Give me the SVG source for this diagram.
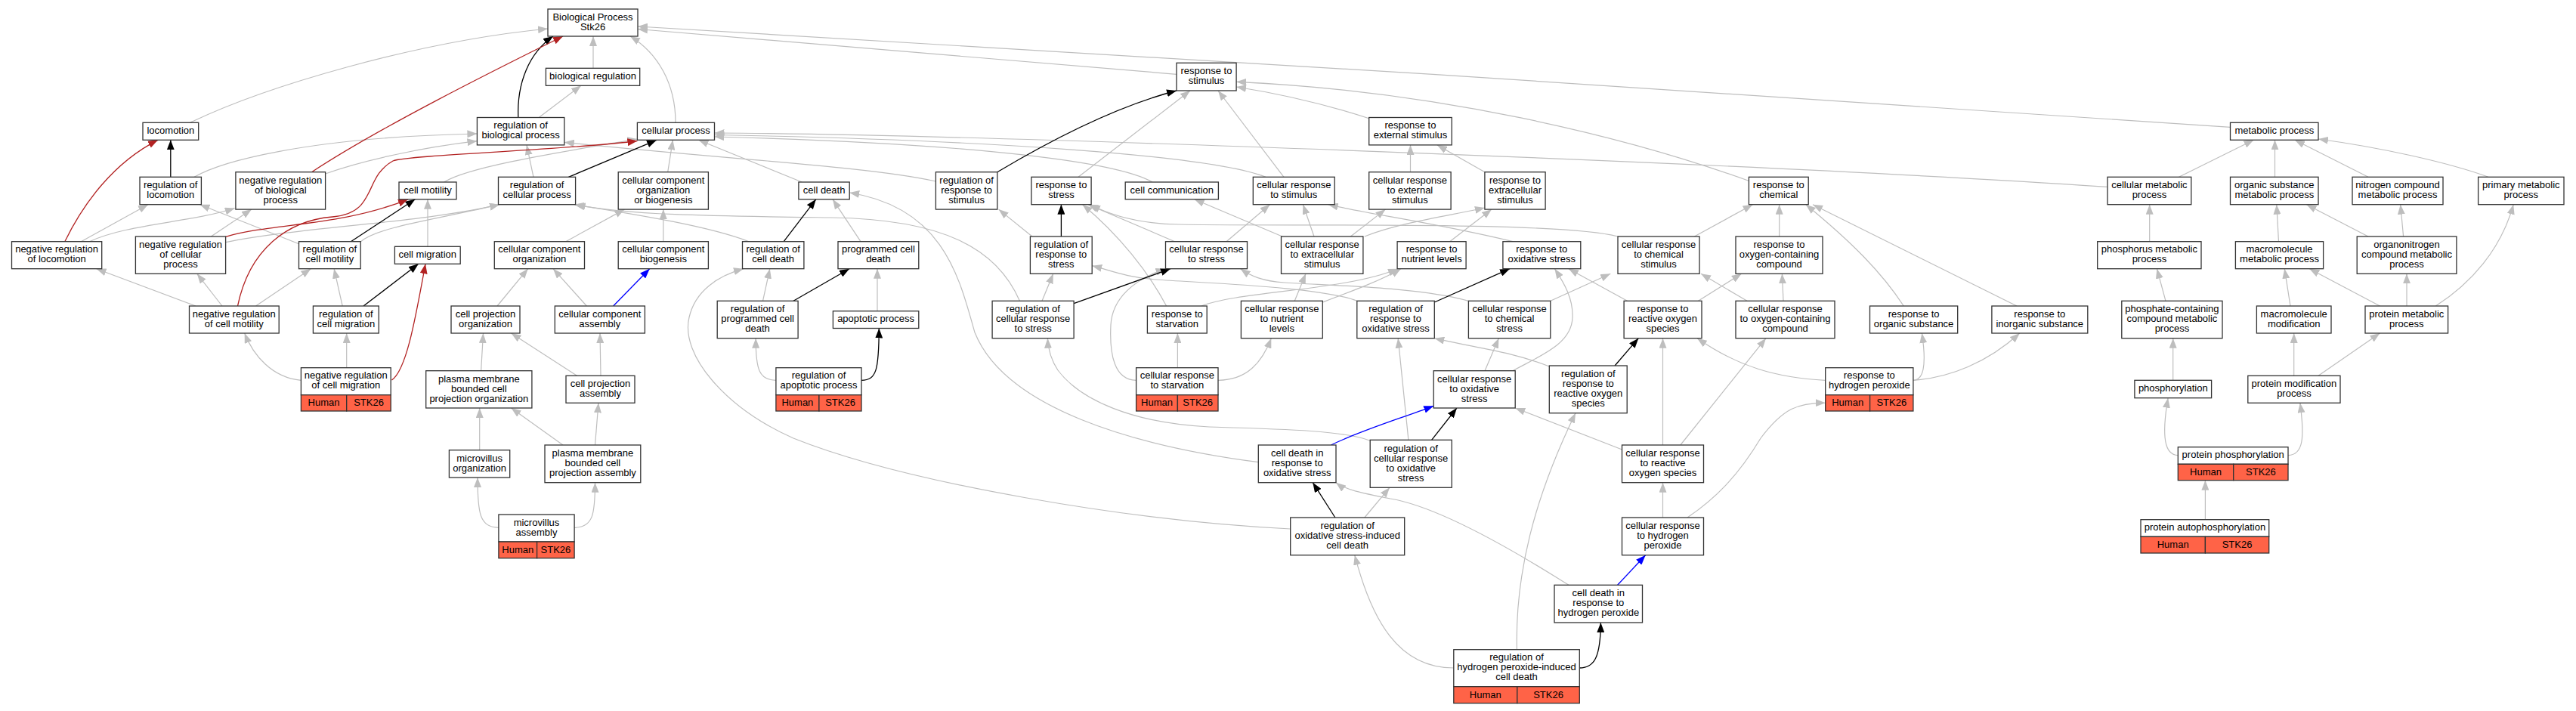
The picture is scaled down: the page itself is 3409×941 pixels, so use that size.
<svg xmlns="http://www.w3.org/2000/svg" width="3409" height="941" viewBox="0 0 3409 941">
<defs>
<style>
.e{fill:none;stroke:#bebebe;stroke-width:1.2;marker-end:url(#mg)}
.k{fill:none;stroke:#000;stroke-width:1.3;marker-end:url(#mk)}
.r{fill:none;stroke:#b22222;stroke-width:1.3;marker-end:url(#mr)}
.b{fill:none;stroke:#0000ff;stroke-width:1.3;marker-end:url(#mb)}
.n rect{fill:#fff;stroke:#333;stroke-width:1.3}
.n rect.c{fill:#ff6347}
text{font-family:"Liberation Sans",Arial,sans-serif;font-size:13px;text-anchor:middle;fill:#000}
</style>
<marker id="mg" viewBox="0 0 13 10" refX="13" refY="5" markerWidth="13" markerHeight="10" markerUnits="userSpaceOnUse" orient="auto"><path d="M0,0 L13,5 L0,10 z" fill="#bebebe"/></marker>
<marker id="mk" viewBox="0 0 13 10" refX="13" refY="5" markerWidth="13" markerHeight="10" markerUnits="userSpaceOnUse" orient="auto"><path d="M0,0 L13,5 L0,10 z" fill="#000"/></marker>
<marker id="mr" viewBox="0 0 13 10" refX="13" refY="5" markerWidth="13" markerHeight="10" markerUnits="userSpaceOnUse" orient="auto"><path d="M0,0 L13,5 L0,10 z" fill="#b22222"/></marker>
<marker id="mb" viewBox="0 0 13 10" refX="13" refY="5" markerWidth="13" markerHeight="10" markerUnits="userSpaceOnUse" orient="auto"><path d="M0,0 L13,5 L0,10 z" fill="#0000ff"/></marker>
</defs>
<rect x="0" y="0" width="3409" height="941" fill="#fff"/>
<g id="edges">
<path class="e" d="M251.6,162.3 C350,115 550,55 725,38"/>
<path class="e" d="M785,90.3 L785,48"/>
<path class="e" d="M894,162.3 C894,110 870,70 834,48"/>
<path class="e" d="M1557,98.3 L844,38.5"/>
<path class="e" d="M2951.5,168.3 C2500,135 1300,60 844,35"/>
<path class="e" d="M257,234.3 C290,215 400,182 631.4,177"/>
<path class="e" d="M430.6,230 C480,212 560,195 631.4,186.7"/>
<path class="e" d="M706,234.3 L697,192"/>
<path class="e" d="M713.5,155.3 L769,113.3"/>
<path class="e" d="M1238.4,240 C1150,220 950,210 746.8,188.3"/>
<path class="e" d="M107.3,319.7 L196,270.7"/>
<path class="e" d="M118.4,319.7 C170,296 250,295 310.8,275.5"/>
<path class="e" d="M259,405 L127.6,355.7"/>
<path class="e" d="M294,405 L260.8,362.3"/>
<path class="e" d="M338.5,405 L411.4,355.7"/>
<path class="e" d="M453.2,405 L442.1,355.7"/>
<path class="e" d="M458.7,486.7 L458.7,441"/>
<path class="e" d="M398.4,503.3 C360,500 335,470 323.7,441"/>
<path class="e" d="M279.3,313 L333,277.1"/>
<path class="e" d="M395.5,322.7 L264.5,270.7"/>
<path class="e" d="M566,326.3 L566,263.8"/>
<path class="e" d="M298.6,320.7 C400,300 560,295 661,270.7"/>
<path class="e" d="M477.2,320 C500,300 580,290 661,270.7"/>
<path class="e" d="M587.7,241 C620,220 750,200 843.4,184"/>
<path class="e" d="M883.7,227.7 L890.4,185.3"/>
<path class="e" d="M1061.3,241 L924.4,185.3"/>
<path class="e" d="M2788.6,247.3 C2300,215 1300,178 945.5,176"/>
<path class="e" d="M1675,234.3 C1600,205 1300,185 945.5,178.5"/>
<path class="e" d="M1525,241 C1480,215 1300,190 945.5,181"/>
<path class="e" d="M1665.3,611.7 C1500,590 1330,540 1290,440 C1270,370 1250,275 1124.2,255"/>
<path class="e" d="M1139,319.7 L1102,263.8"/>
<path class="e" d="M991,319.7 C940,300 850,285 759.8,270.7"/>
<path class="e" d="M1349.4,398.3 C1320,330 1250,290 1100,288 C950,286 830,285 761.6,270.7"/>
<path class="e" d="M748.7,319.7 L826.4,277.1"/>
<path class="e" d="M877.8,319.7 L877.8,277.1"/>
<path class="e" d="M658,405 L698.7,355.7"/>
<path class="e" d="M776.4,405 L732,355.7"/>
<path class="e" d="M1009.5,398.3 L1018.8,355.7"/>
<path class="e" d="M1161,411.7 L1161,355.7"/>
<path class="e" d="M1707.7,700 C1500,690 1200,640 1050,580 C960,540 900,470 912,420 C920,385 950,365 984,355.7"/>
<path class="e" d="M1027,503.3 C1005,503 1000,490 1000.2,447.7"/>
<path class="e" d="M636.6,490.7 L639.5,441"/>
<path class="e" d="M763.5,497.3 L676.5,441"/>
<path class="e" d="M795,497.3 L794,441"/>
<path class="e" d="M634.7,595.7 L634.7,540"/>
<path class="e" d="M745,589 L676.5,540"/>
<path class="e" d="M787.5,589 L792,533.3"/>
<path class="e" d="M659.9,698.3 C635,698 632,680 632,632"/>
<path class="e" d="M760.1,698.3 C785,698 787.5,680 787.5,638.7"/>
<path class="e" d="M1427,234.3 L1575,120"/>
<path class="e" d="M1699,234.3 L1612,120"/>
<path class="e" d="M1811.7,156.7 C1760,140 1700,125 1636.1,115"/>
<path class="e" d="M2314,239.3 C2150,180 1900,120 1636.1,108.3"/>
<path class="e" d="M1366,313 L1321.6,277.1"/>
<path class="e" d="M1554.7,319.7 L1440,270.7"/>
<path class="e" d="M1543.6,405 C1520,360 1480,310 1432.6,270.7"/>
<path class="e" d="M2001.9,319.7 C1900,295 1820,285 1757.7,270.7"/>
<path class="e" d="M2141,313 C2060,292 1700,300 1560,297 C1510,296 1470,285 1443,270.7"/>
<path class="e" d="M1623,319.7 L1680.5,270.7"/>
<path class="e" d="M1697,313 L1580.6,263.8"/>
<path class="e" d="M1739,313 L1724.4,270.7"/>
<path class="e" d="M1866.5,227.7 L1866.5,191.9"/>
<path class="e" d="M1964.9,227.7 L1902,191.9"/>
<path class="e" d="M1787.3,313 L1833.5,277.1"/>
<path class="e" d="M1805.8,313 C1850,295 1920,285 1964.9,275"/>
<path class="e" d="M1918.6,319.7 L1974,277.1"/>
<path class="e" d="M1713.3,398.3 L1728,362.3"/>
<path class="e" d="M1750.3,400 C1790,385 1830,370 1853.9,355.7"/>
<path class="e" d="M1589.8,405 C1640,385 1780,385 1850,355.7"/>
<path class="e" d="M1558.4,486.7 L1558.4,441"/>
<path class="e" d="M1503.6,503.3 C1475,503 1468,470 1470,430 C1472,395 1500,370 1542.5,355.7"/>
<path class="e" d="M1612,503.3 C1650,503 1670,480 1682.3,447.7"/>
<path class="e" d="M1379,398.3 L1393.8,362.3"/>
<path class="e" d="M1795.8,398.3 C1750,380 1600,375 1530,370 C1490,367 1470,358 1445.2,351.7"/>
<path class="e" d="M1943.4,398.3 C1880,380 1760,378 1700,374 C1670,372 1655,365 1641.6,355.7"/>
<path class="e" d="M2001.9,490.7 C2040,470 2080,455 2081,420 C2082,395 2070,375 2057.4,355.7"/>
<path class="e" d="M2153.5,398.3 L2075.9,355.7"/>
<path class="e" d="M2051.8,398.3 L2131.3,362.3"/>
<path class="e" d="M2242.3,313 L2319.5,270.7"/>
<path class="e" d="M2312,398.3 L2251,362.3"/>
<path class="e" d="M2354.7,313 L2354.7,270.7"/>
<path class="e" d="M2519.3,405 C2490,360 2450,320 2389.8,270.7"/>
<path class="e" d="M2669,405 L2399,270.7"/>
<path class="e" d="M2247.4,398.3 L2304.7,362.3"/>
<path class="e" d="M2360,398.3 L2358.4,362.3"/>
<path class="e" d="M2223.8,589 L2337,447.7"/>
<path class="e" d="M2415.7,503.3 C2350,500 2300,485 2246,447.7"/>
<path class="e" d="M2531.9,503.3 C2545,503 2550,485 2543.4,441"/>
<path class="e" d="M2531.9,503.3 C2580,500 2630,480 2672.8,441"/>
<path class="e" d="M2233,685 C2270,660 2300,630 2330,580 C2360,540 2380,533 2415.7,533.3"/>
<path class="e" d="M2200.5,589 L2200.5,447.7"/>
<path class="e" d="M2050.3,485 C2000,465 1950,460 1898.3,447.7"/>
<path class="e" d="M1965,490.7 L1983.4,447.7"/>
<path class="e" d="M1863.9,582.3 L1850.2,447.7"/>
<path class="e" d="M1813.2,583.3 C1780,570 1700,568 1600,565 C1500,560 1430,530 1400,490 C1390,475 1387,460 1386.4,447.7"/>
<path class="e" d="M2146.5,595 L2005.2,540"/>
<path class="e" d="M2200.5,685 L2200.5,638.7"/>
<path class="e" d="M1805.8,685 L1839,645.3"/>
<path class="e" d="M2075.9,774.3 C1990,720 1900,670 1840,660 C1800,652 1780,648 1768,638.7"/>
<path class="e" d="M2007.4,859.7 C2005,760 2030,660 2085,546.7"/>
<path class="e" d="M1923.8,884 C1850,884 1815,820 1792.8,734.7"/>
<path class="e" d="M2883.5,234.3 L2982.5,185.3"/>
<path class="e" d="M3010.5,234.3 L3010.5,185.3"/>
<path class="e" d="M3134,234.3 L3036.9,185.3"/>
<path class="e" d="M3293,234.3 C3240,215 3150,195 3068,184"/>
<path class="e" d="M2844.7,319.7 L2844.7,270.7"/>
<path class="e" d="M3015.5,319.7 L3012.8,270.7"/>
<path class="e" d="M3134,313 L3052.4,270.7"/>
<path class="e" d="M3180.6,313 L3176.7,270.7"/>
<path class="e" d="M3223.3,405 C3270,375 3310,330 3326.2,270.7"/>
<path class="e" d="M2866,398.3 L2854.4,355.7"/>
<path class="e" d="M3031,405 L3023.3,355.7"/>
<path class="e" d="M3149.5,405 L3056.3,355.7"/>
<path class="e" d="M3185,405 L3185,362.3"/>
<path class="e" d="M2875.7,503.3 L2875.7,447.7"/>
<path class="e" d="M3035.7,497.3 L3035.7,441"/>
<path class="e" d="M3068,497.3 L3149.5,441"/>
<path class="e" d="M2882.3,602.7 C2865,602 2860,580 2869.1,526.7"/>
<path class="e" d="M3028,602.7 C3048,602 3050,580 3043.9,533.3"/>
<path class="e" d="M2918.4,687.7 L2918.4,635.7"/>
<path class="k" d="M685.8,155.5 C684,110 700,70 732,48"/>
<path class="k" d="M464.3,319.7 L549.4,263.8"/>
<path class="k" d="M481,405 L553.8,349.3"/>
<path class="k" d="M225.8,234.3 L225.8,185.3"/>
<path class="k" d="M752.4,234.3 L869,185.3"/>
<path class="k" d="M1037.2,319.7 L1079.8,263.8"/>
<path class="k" d="M1050,398.3 L1124,355.7"/>
<path class="k" d="M1140,503.3 C1160,503 1163,490 1163.3,434.5"/>
<path class="k" d="M1319.8,227.7 C1400,180 1480,140 1557,120"/>
<path class="k" d="M1404.4,313 L1404.4,270.7"/>
<path class="k" d="M1421.1,401.7 L1549,355.7"/>
<path class="k" d="M1898.3,400 L1998,355.7"/>
<path class="k" d="M2137,484 L2168.3,447.7"/>
<path class="k" d="M1894.6,582.3 L1927.9,540"/>
<path class="k" d="M1766.9,685 L1737.3,638.7"/>
<path class="k" d="M2090.3,884 C2110,884 2118,870 2118.4,824"/>
<path class="r" d="M412.5,227.7 C500,170 650,95 745,48"/>
<path class="r" d="M298.6,313.3 C360,295 450,300 540,263.8"/>
<path class="r" d="M314.5,405 C330,330 380,292 440,287 C500,282 480,235 520,213 C540,205 760,198 843.4,186.5"/>
<path class="r" d="M518.5,503 C538,490 550,420 563,349.3"/>
<path class="r" d="M85.8,319.7 C110,270 150,215 209,185.3"/>
<path class="b" d="M811.6,405 L859.7,355.7"/>
<path class="b" d="M1761.4,589 C1800,570 1850,555 1897.2,537.3"/>
<path class="b" d="M2140.6,774.3 L2177.6,734.7"/>
</g>
<g id="n_bp" class="n"><rect x="725" y="12" width="119" height="36"/><text><tspan x="784.5" y="26.7">Biological Process</tspan><tspan x="784.5" y="39.7">Stk26</tspan></text></g>
<g id="n_bioreg" class="n"><rect x="722.4" y="90.3" width="124.3" height="23"/><text x="784.5" y="105">biological regulation</text></g>
<g id="n_loc" class="n"><rect x="189" y="162.3" width="73.7" height="23"/><text x="225.9" y="177">locomotion</text></g>
<g id="n_rbp" class="n"><rect x="631.4" y="155.5" width="115.4" height="36.4"/><text><tspan x="689.1" y="170.4">regulation of</tspan><tspan x="689.1" y="183.4">biological process</tspan></text></g>
<g id="n_cp" class="n"><rect x="843.4" y="162.3" width="102.1" height="23"/><text x="894.5" y="177">cellular process</text></g>
<g id="n_rs" class="n"><rect x="1557" y="83.3" width="79.1" height="36.7"/><text><tspan x="1596.5" y="98.4">response to</tspan><tspan x="1596.5" y="111.4">stimulus</tspan></text></g>
<g id="n_res" class="n"><rect x="1811.7" y="155.5" width="109.5" height="36.4"/><text><tspan x="1866.5" y="170.4">response to</tspan><tspan x="1866.5" y="183.4">external stimulus</tspan></text></g>
<g id="n_mp" class="n"><rect x="2951.5" y="162.3" width="116.5" height="23"/><text x="3009.8" y="177">metabolic process</text></g>
<g id="n_rloc" class="n"><rect x="185" y="234.3" width="81.4" height="36.4"/><text><tspan x="225.7" y="249.1">regulation of</tspan><tspan x="225.7" y="262.1">locomotion</tspan></text></g>
<g id="n_nrbp" class="n"><rect x="311.9" y="227.7" width="118.7" height="49.4"/><text><tspan x="371.3" y="242.6">negative regulation</tspan><tspan x="371.3" y="255.6">of biological</tspan><tspan x="371.3" y="268.6">process</tspan></text></g>
<g id="n_cm" class="n"><rect x="528" y="241" width="76" height="22.8"/><text x="566" y="255.6">cell motility</text></g>
<g id="n_rcp" class="n"><rect x="659.5" y="234.3" width="102.1" height="36.4"/><text><tspan x="710.6" y="249.1">regulation of</tspan><tspan x="710.6" y="262.1">cellular process</tspan></text></g>
<g id="n_ccob" class="n"><rect x="818.2" y="227.7" width="119.2" height="49.4"/><text><tspan x="877.8" y="242.6">cellular component</tspan><tspan x="877.8" y="255.6">organization</tspan><tspan x="877.8" y="268.6">or biogenesis</tspan></text></g>
<g id="n_cd" class="n"><rect x="1056.9" y="241" width="67.3" height="22.8"/><text x="1090.6" y="255.6">cell death</text></g>
<g id="n_rrs" class="n"><rect x="1238.4" y="227.7" width="81.4" height="49.4"/><text><tspan x="1279.1" y="242.6">regulation of</tspan><tspan x="1279.1" y="255.6">response to</tspan><tspan x="1279.1" y="268.6">stimulus</tspan></text></g>
<g id="n_rst" class="n"><rect x="1364.9" y="234.3" width="79.2" height="36.4"/><text><tspan x="1404.5" y="249.1">response to</tspan><tspan x="1404.5" y="262.1">stress</tspan></text></g>
<g id="n_cc" class="n"><rect x="1489.2" y="241" width="123.2" height="22.8"/><text x="1550.8" y="255.6">cell communication</text></g>
<g id="n_crs" class="n"><rect x="1658.3" y="234.3" width="107.9" height="36.4"/><text><tspan x="1712.3" y="249.1">cellular response</tspan><tspan x="1712.3" y="262.1">to stimulus</tspan></text></g>
<g id="n_cres" class="n"><rect x="1811.7" y="227.7" width="108.4" height="49.4"/><text><tspan x="1865.9" y="242.6">cellular response</tspan><tspan x="1865.9" y="255.6">to external</tspan><tspan x="1865.9" y="268.6">stimulus</tspan></text></g>
<g id="n_rexs" class="n"><rect x="1964.9" y="227.7" width="80.2" height="49.4"/><text><tspan x="2005" y="242.6">response to</tspan><tspan x="2005" y="255.6">extracellular</tspan><tspan x="2005" y="268.6">stimulus</tspan></text></g>
<g id="n_rch" class="n"><rect x="2314.4" y="234.3" width="78.8" height="36.4"/><text><tspan x="2353.8" y="249.1">response to</tspan><tspan x="2353.8" y="262.1">chemical</tspan></text></g>
<g id="n_cmp" class="n"><rect x="2789" y="234.3" width="110.8" height="36.4"/><text><tspan x="2844.4" y="249.1">cellular metabolic</tspan><tspan x="2844.4" y="262.1">process</tspan></text></g>
<g id="n_osmp" class="n"><rect x="2951.5" y="234.3" width="116.5" height="36.4"/><text><tspan x="3009.8" y="249.1">organic substance</tspan><tspan x="3009.8" y="262.1">metabolic process</tspan></text></g>
<g id="n_ncmp" class="n"><rect x="3113" y="234.3" width="120" height="36.4"/><text><tspan x="3173" y="249.1">nitrogen compound</tspan><tspan x="3173" y="262.1">metabolic process</tspan></text></g>
<g id="n_pmp" class="n"><rect x="3279.6" y="234.3" width="113.4" height="36.4"/><text><tspan x="3336.3" y="249.1">primary metabolic</tspan><tspan x="3336.3" y="262.1">process</tspan></text></g>
<g id="n_nrloc" class="n"><rect x="15.5" y="319.7" width="119.2" height="36"/><text><tspan x="75.1" y="334.4">negative regulation</tspan><tspan x="75.1" y="347.4">of locomotion</tspan></text></g>
<g id="n_nrcp" class="n"><rect x="179.4" y="313" width="119.2" height="49.3"/><text><tspan x="239" y="327.9">negative regulation</tspan><tspan x="239" y="340.9">of cellular</tspan><tspan x="239" y="353.9">process</tspan></text></g>
<g id="n_rcm" class="n"><rect x="395.5" y="319.7" width="81.7" height="36"/><text><tspan x="436.4" y="334.4">regulation of</tspan><tspan x="436.4" y="347.4">cell motility</tspan></text></g>
<g id="n_cmig" class="n"><rect x="522.4" y="326.3" width="86.8" height="23"/><text x="565.8" y="340.9">cell migration</text></g>
<g id="n_cco" class="n"><rect x="654.3" y="319.7" width="119.2" height="36"/><text><tspan x="713.9" y="334.4">cellular component</tspan><tspan x="713.9" y="347.4">organization</tspan></text></g>
<g id="n_ccb" class="n"><rect x="818.2" y="319.7" width="119.2" height="36"/><text><tspan x="877.8" y="334.4">cellular component</tspan><tspan x="877.8" y="347.4">biogenesis</tspan></text></g>
<g id="n_rcd" class="n"><rect x="982.5" y="319.7" width="81.4" height="36"/><text><tspan x="1023.2" y="334.4">regulation of</tspan><tspan x="1023.2" y="347.4">cell death</tspan></text></g>
<g id="n_pcd" class="n"><rect x="1109" y="319.7" width="106.8" height="36"/><text><tspan x="1162.4" y="334.4">programmed cell</tspan><tspan x="1162.4" y="347.4">death</tspan></text></g>
<g id="n_rrst" class="n"><rect x="1363.4" y="313" width="81.8" height="49.3"/><text><tspan x="1404.3" y="327.9">regulation of</tspan><tspan x="1404.3" y="340.9">response to</tspan><tspan x="1404.3" y="353.9">stress</tspan></text></g>
<g id="n_crst" class="n"><rect x="1542.5" y="319.7" width="108" height="36"/><text><tspan x="1596.5" y="334.4">cellular response</tspan><tspan x="1596.5" y="347.4">to stress</tspan></text></g>
<g id="n_crexs" class="n"><rect x="1695.5" y="313" width="108.4" height="49.3"/><text><tspan x="1749.7" y="327.9">cellular response</tspan><tspan x="1749.7" y="340.9">to extracellular</tspan><tspan x="1749.7" y="353.9">stimulus</tspan></text></g>
<g id="n_rnl" class="n"><rect x="1849.1" y="319.7" width="91" height="36"/><text><tspan x="1894.6" y="334.4">response to</tspan><tspan x="1894.6" y="347.4">nutrient levels</tspan></text></g>
<g id="n_ros" class="n"><rect x="1988.9" y="319.7" width="102.9" height="36"/><text><tspan x="2040.3" y="334.4">response to</tspan><tspan x="2040.3" y="347.4">oxidative stress</tspan></text></g>
<g id="n_crchs" class="n"><rect x="2141" y="313" width="108" height="49.3"/><text><tspan x="2195" y="327.9">cellular response</tspan><tspan x="2195" y="340.9">to chemical</tspan><tspan x="2195" y="353.9">stimulus</tspan></text></g>
<g id="n_roc" class="n"><rect x="2297" y="313" width="115" height="49.3"/><text><tspan x="2354.5" y="327.9">response to</tspan><tspan x="2354.5" y="340.9">oxygen-containing</tspan><tspan x="2354.5" y="353.9">compound</tspan></text></g>
<g id="n_phmp" class="n"><rect x="2775.7" y="319.7" width="137.3" height="36"/><text><tspan x="2844.4" y="334.4">phosphorus metabolic</tspan><tspan x="2844.4" y="347.4">process</tspan></text></g>
<g id="n_mmp" class="n"><rect x="2958.4" y="319.7" width="116.2" height="36"/><text><tspan x="3016.5" y="334.4">macromolecule</tspan><tspan x="3016.5" y="347.4">metabolic process</tspan></text></g>
<g id="n_oncmp" class="n"><rect x="3119.2" y="313" width="131.7" height="49.3"/><text><tspan x="3185" y="327.9">organonitrogen</tspan><tspan x="3185" y="340.9">compound metabolic</tspan><tspan x="3185" y="353.9">process</tspan></text></g>
<g id="n_nrcm" class="n"><rect x="250.5" y="405" width="118.7" height="36"/><text><tspan x="309.8" y="419.7">negative regulation</tspan><tspan x="309.8" y="432.7">of cell motility</tspan></text></g>
<g id="n_rcmig" class="n"><rect x="414.4" y="405" width="86.9" height="36"/><text><tspan x="457.9" y="419.7">regulation of</tspan><tspan x="457.9" y="432.7">cell migration</tspan></text></g>
<g id="n_cpo" class="n"><rect x="597" y="405" width="91" height="36"/><text><tspan x="642.5" y="419.7">cell projection</tspan><tspan x="642.5" y="432.7">organization</tspan></text></g>
<g id="n_cca" class="n"><rect x="734.3" y="405" width="119.1" height="36"/><text><tspan x="793.8" y="419.7">cellular component</tspan><tspan x="793.8" y="432.7">assembly</tspan></text></g>
<g id="n_rpcd" class="n"><rect x="949.2" y="398.3" width="106.9" height="49.4"/><text><tspan x="1002.6" y="413.2">regulation of</tspan><tspan x="1002.6" y="426.2">programmed cell</tspan><tspan x="1002.6" y="439.2">death</tspan></text></g>
<g id="n_ap" class="n"><rect x="1102.4" y="411.7" width="113.4" height="22.8"/><text x="1159.1" y="426.2">apoptotic process</text></g>
<g id="n_rcrst" class="n"><rect x="1313.1" y="398.3" width="108" height="49.4"/><text><tspan x="1367.1" y="413.2">regulation of</tspan><tspan x="1367.1" y="426.2">cellular response</tspan><tspan x="1367.1" y="439.2">to stress</tspan></text></g>
<g id="n_rstv" class="n"><rect x="1518.4" y="405" width="78.8" height="36"/><text><tspan x="1557.8" y="419.7">response to</tspan><tspan x="1557.8" y="432.7">starvation</tspan></text></g>
<g id="n_crnl" class="n"><rect x="1642.4" y="398.3" width="107.9" height="49.4"/><text><tspan x="1696.3" y="413.2">cellular response</tspan><tspan x="1696.3" y="426.2">to nutrient</tspan><tspan x="1696.3" y="439.2">levels</tspan></text></g>
<g id="n_rros" class="n"><rect x="1795.8" y="398.3" width="102.5" height="49.4"/><text><tspan x="1847" y="413.2">regulation of</tspan><tspan x="1847" y="426.2">response to</tspan><tspan x="1847" y="439.2">oxidative stress</tspan></text></g>
<g id="n_crchst" class="n"><rect x="1943.4" y="398.3" width="108.4" height="49.4"/><text><tspan x="1997.6" y="413.2">cellular response</tspan><tspan x="1997.6" y="426.2">to chemical</tspan><tspan x="1997.6" y="439.2">stress</tspan></text></g>
<g id="n_rrosp" class="n"><rect x="2149.1" y="398.3" width="102.9" height="49.4"/><text><tspan x="2200.5" y="413.2">response to</tspan><tspan x="2200.5" y="426.2">reactive oxygen</tspan><tspan x="2200.5" y="439.2">species</tspan></text></g>
<g id="n_croc" class="n"><rect x="2297" y="398.3" width="131" height="49.4"/><text><tspan x="2362.5" y="413.2">cellular response</tspan><tspan x="2362.5" y="426.2">to oxygen-containing</tspan><tspan x="2362.5" y="439.2">compound</tspan></text></g>
<g id="n_rorg" class="n"><rect x="2474.5" y="405" width="116.2" height="36"/><text><tspan x="2532.6" y="419.7">response to</tspan><tspan x="2532.6" y="432.7">organic substance</tspan></text></g>
<g id="n_rinorg" class="n"><rect x="2635.9" y="405" width="126.9" height="36"/><text><tspan x="2699.3" y="419.7">response to</tspan><tspan x="2699.3" y="432.7">inorganic substance</tspan></text></g>
<g id="n_pccmp" class="n"><rect x="2807.8" y="398.3" width="133.2" height="49.4"/><text><tspan x="2874.4" y="413.2">phosphate-containing</tspan><tspan x="2874.4" y="426.2">compound metabolic</tspan><tspan x="2874.4" y="439.2">process</tspan></text></g>
<g id="n_mmod" class="n"><rect x="2986.4" y="405" width="98.6" height="36"/><text><tspan x="3035.7" y="419.7">macromolecule</tspan><tspan x="3035.7" y="432.7">modification</tspan></text></g>
<g id="n_prmp" class="n"><rect x="3130" y="405" width="109.6" height="36"/><text><tspan x="3184.8" y="419.7">protein metabolic</tspan><tspan x="3184.8" y="432.7">process</tspan></text></g>
<g id="n_nrcmig" class="n"><rect x="398.4" y="486.7" width="118.8" height="36"/><rect class="c" x="398.4" y="522.7" width="60.3" height="21.3"/><rect class="c" x="458.7" y="522.7" width="58.5" height="21.3"/><text><tspan x="457.8" y="501.4">negative regulation</tspan><tspan x="457.8" y="514.4">of cell migration</tspan></text><text x="428.5" y="537.3">Human</text><text x="488" y="537.3">STK26</text></g>
<g id="n_pmbcpo" class="n"><rect x="563.7" y="490.7" width="140.2" height="49.3"/><text><tspan x="633.8" y="505.5">plasma membrane</tspan><tspan x="633.8" y="518.5">bounded cell</tspan><tspan x="633.8" y="531.5">projection organization</tspan></text></g>
<g id="n_cpa" class="n"><rect x="749" y="497.3" width="91" height="36"/><text><tspan x="794.5" y="512">cell projection</tspan><tspan x="794.5" y="525">assembly</tspan></text></g>
<g id="n_rap" class="n"><rect x="1026.9" y="486.7" width="113.1" height="36"/><rect class="c" x="1026.9" y="522.7" width="57" height="21.3"/><rect class="c" x="1083.9" y="522.7" width="56.1" height="21.3"/><text><tspan x="1083.5" y="501.4">regulation of</tspan><tspan x="1083.5" y="514.4">apoptotic process</tspan></text><text x="1055.4" y="537.3">Human</text><text x="1112" y="537.3">STK26</text></g>
<g id="n_crstv" class="n"><rect x="1503.6" y="486.7" width="108.4" height="36"/><rect class="c" x="1503.6" y="522.7" width="54.8" height="21.3"/><rect class="c" x="1558.4" y="522.7" width="53.6" height="21.3"/><text><tspan x="1557.8" y="501.4">cellular response</tspan><tspan x="1557.8" y="514.4">to starvation</tspan></text><text x="1531" y="537.3">Human</text><text x="1585.2" y="537.3">STK26</text></g>
<g id="n_cros" class="n"><rect x="1897.2" y="490.7" width="108" height="49.3"/><text><tspan x="1951.2" y="505.5">cellular response</tspan><tspan x="1951.2" y="518.5">to oxidative</tspan><tspan x="1951.2" y="531.5">stress</tspan></text></g>
<g id="n_rrrosp" class="n"><rect x="2050.3" y="484" width="102.9" height="62.7"/><text><tspan x="2101.8" y="499">regulation of</tspan><tspan x="2101.8" y="512">response to</tspan><tspan x="2101.8" y="525">reactive oxygen</tspan><tspan x="2101.8" y="538">species</tspan></text></g>
<g id="n_rh2o2" class="n"><rect x="2415.7" y="486.7" width="116.2" height="36"/><rect class="c" x="2415.7" y="522.7" width="58.9" height="21.3"/><rect class="c" x="2474.6" y="522.7" width="57.3" height="21.3"/><text><tspan x="2473.8" y="501.4">response to</tspan><tspan x="2473.8" y="514.4">hydrogen peroxide</tspan></text><text x="2445.2" y="537.3">Human</text><text x="2503.3" y="537.3">STK26</text></g>
<g id="n_phos" class="n"><rect x="2824.9" y="503.3" width="101.7" height="23.4"/><text x="2875.8" y="518.2">phosphorylation</text></g>
<g id="n_pmodp" class="n"><rect x="2974.8" y="497.3" width="122.2" height="36"/><text><tspan x="3035.9" y="512">protein modification</tspan><tspan x="3035.9" y="525">process</tspan></text></g>
<g id="n_mvo" class="n"><rect x="594.4" y="595.7" width="80.3" height="36.3"/><text><tspan x="634.6" y="610.5">microvillus</tspan><tspan x="634.6" y="623.5">organization</tspan></text></g>
<g id="n_pmbcpa" class="n"><rect x="721" y="589" width="126.8" height="49.7"/><text><tspan x="784.4" y="604">plasma membrane</tspan><tspan x="784.4" y="617">bounded cell</tspan><tspan x="784.4" y="630">projection assembly</tspan></text></g>
<g id="n_cdros" class="n"><rect x="1665.3" y="589" width="102.7" height="49.7"/><text><tspan x="1716.7" y="604">cell death in</tspan><tspan x="1716.7" y="617">response to</tspan><tspan x="1716.7" y="630">oxidative stress</tspan></text></g>
<g id="n_rcros" class="n"><rect x="1813.2" y="582.3" width="108" height="63"/><text><tspan x="1867.2" y="597.5">regulation of</tspan><tspan x="1867.2" y="610.5">cellular response</tspan><tspan x="1867.2" y="623.5">to oxidative</tspan><tspan x="1867.2" y="636.5">stress</tspan></text></g>
<g id="n_crrosp" class="n"><rect x="2146.5" y="589" width="108" height="49.7"/><text><tspan x="2200.5" y="604">cellular response</tspan><tspan x="2200.5" y="617">to reactive</tspan><tspan x="2200.5" y="630">oxygen species</tspan></text></g>
<g id="n_pphos" class="n"><rect x="2882.3" y="591.7" width="145.7" height="22.6"/><rect class="c" x="2882.3" y="614.3" width="73.4" height="21.4"/><rect class="c" x="2955.7" y="614.3" width="72.3" height="21.4"/><text x="2955.2" y="606.2">protein phosphorylation</text><text x="2919" y="628.8">Human</text><text x="2991.9" y="628.8">STK26</text></g>
<g id="n_mva" class="n"><rect x="659.9" y="681" width="100.2" height="36"/><rect class="c" x="659.9" y="717" width="50.7" height="21.7"/><rect class="c" x="710.6" y="717" width="49.5" height="21.7"/><text><tspan x="710" y="695.7">microvillus</tspan><tspan x="710" y="708.7">assembly</tspan></text><text x="685.3" y="731.9">Human</text><text x="735.4" y="731.9">STK26</text></g>
<g id="n_rosicd" class="n"><rect x="1707.7" y="685" width="151" height="49.7"/><text><tspan x="1783.2" y="700">regulation of</tspan><tspan x="1783.2" y="713">oxidative stress-induced</tspan><tspan x="1783.2" y="726">cell death</tspan></text></g>
<g id="n_crh2o2" class="n"><rect x="2146.5" y="685" width="108" height="49.7"/><text><tspan x="2200.5" y="700">cellular response</tspan><tspan x="2200.5" y="713">to hydrogen</tspan><tspan x="2200.5" y="726">peroxide</tspan></text></g>
<g id="n_papho" class="n"><rect x="2833" y="687.7" width="169.7" height="22.6"/><rect class="c" x="2833" y="710.3" width="85.4" height="21.7"/><rect class="c" x="2918.4" y="710.3" width="84.3" height="21.7"/><text x="2917.9" y="702.2">protein autophosphorylation</text><text x="2875.7" y="725.1">Human</text><text x="2960.5" y="725.1">STK26</text></g>
<g id="n_cdh2o2" class="n"><rect x="2057" y="774.3" width="116.5" height="49.7"/><text><tspan x="2115.3" y="789.3">cell death in</tspan><tspan x="2115.3" y="802.3">response to</tspan><tspan x="2115.3" y="815.3">hydrogen peroxide</tspan></text></g>
<g id="n_rh2o2icd" class="n"><rect x="1923.8" y="859.7" width="166.5" height="49"/><rect class="c" x="1923.8" y="908.7" width="84" height="22"/><rect class="c" x="2007.8" y="908.7" width="82.5" height="22"/><text><tspan x="2007" y="874.4">regulation of</tspan><tspan x="2007" y="887.4">hydrogen peroxide-induced</tspan><tspan x="2007" y="900.4">cell death</tspan></text><text x="1965.8" y="923.5">Human</text><text x="2049" y="923.5">STK26</text></g>
</svg>
